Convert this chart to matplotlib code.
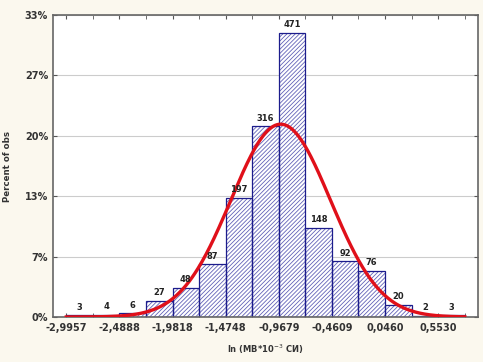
import matplotlib
matplotlib.use('Agg')
import matplotlib.pyplot as plt
import numpy as np

plt.rcParams['font.family'] = ['DejaVu Sans']
plt.rcParams['hatch.linewidth'] = 0.6

# histogram data
bin_start = -2.9957
bin_width = 0.25348
counts = [3, 4, 6, 27, 48, 87, 197, 316, 471, 148, 92, 76, 20, 2, 3]
tick_labels = ['-2,9957', '-2,4888', '-1,9818', '-1,4748', '-0,9679',
               '-0,4609', '0,0460', '0,5530']
y_tick_counts = [0, 100, 200, 300, 400, 500]
# fitted normal
fit_mean = -0.95
fit_sd = 0.475

n_total = sum(counts)
edges = bin_start + bin_width * np.arange(len(counts) + 1)
pct = np.array(counts) / n_total * 100

fig = plt.figure(figsize=(4.83, 3.62), dpi=100)
fig.patch.set_facecolor('#fbf8ee')
ax = fig.add_axes([0.1097, 0.1243, 0.88, 0.834])
ax.set_facecolor('white')

# hatch in a lighter blue, outline in navy
ax.bar(edges[:-1], pct, width=bin_width, align='edge', color='white',
       edgecolor='#6262b8', hatch='////////', linewidth=0, zorder=2)
ax.bar(edges[:-1], pct, width=bin_width, align='edge', fill=False,
       edgecolor='#1c1c8c', linewidth=0.9, zorder=2)

for x0, p, c in zip(edges[:-1], pct, counts):
    ax.text(x0 + bin_width / 2, p + 0.4, str(c), ha='center', va='bottom',
            fontsize=6, fontweight='bold', color='#222222', zorder=4)

xs = np.linspace(edges[0], edges[-1], 400)
ys = bin_width * 100 / (fit_sd * np.sqrt(2 * np.pi)) * np.exp(-0.5 * ((xs - fit_mean) / fit_sd) ** 2)
ax.plot(xs, ys, color='#e0101a', linewidth=2.4, zorder=3)

ax.set_xlim(edges[0] - bin_width / 2, edges[-1] + bin_width / 2)
ymax = 500 / n_total * 100
ax.set_ylim(0, ymax)

yt = [c / n_total * 100 for c in y_tick_counts]
ax.set_yticks(yt)
ax.set_yticklabels(['%d%%' % round(v) for v in yt], fontsize=7, fontweight='bold', color='#333333')
ax.yaxis.grid(True, color='#cccccc', linewidth=0.8, zorder=0)
ax.set_axisbelow(True)

ax.set_xticks(edges[::2])
ax.set_xticklabels(tick_labels, fontsize=7, fontweight='bold', color='#333333')
ax.set_xticks(edges, minor=True)
ax.tick_params(axis='both', which='both', direction='in', length=3, color='#555555',
               top=True, right=True)
ax.tick_params(axis='x', which='major', pad=4)

for s in ax.spines.values():
    s.set_color('#666666')
    s.set_linewidth(1.2)

ax.set_xlabel('ln (MB*10$^{-3}$ СИ)', fontsize=6, fontweight='bold', color='#333333', labelpad=7)
ax.set_ylabel('Percent of obs', fontsize=6.2, fontweight='bold', color='#333333', labelpad=9)

fig.savefig('out.png', dpi=100, facecolor=fig.get_facecolor())
